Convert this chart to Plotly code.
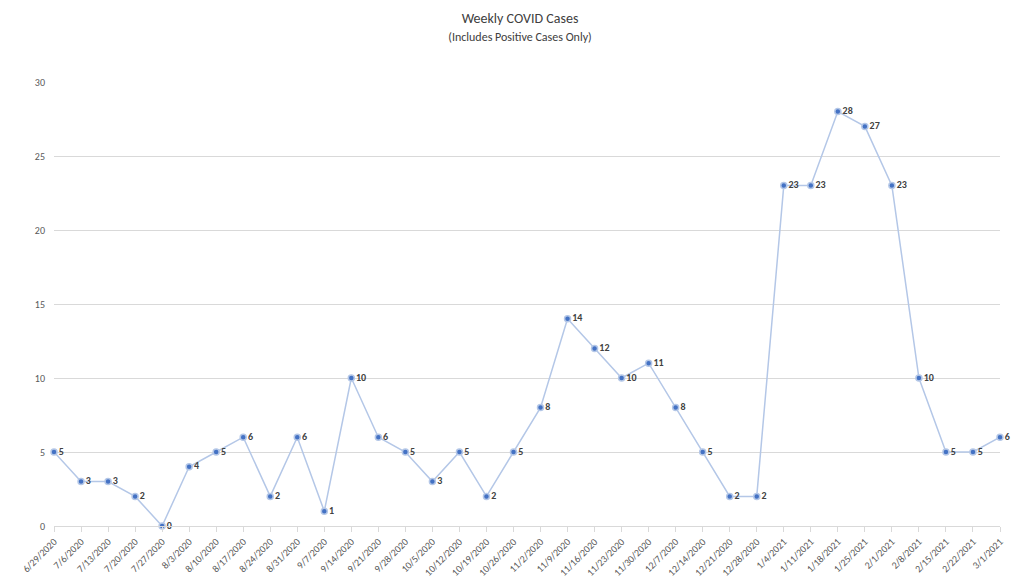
import plotly.graph_objects as go

weeks = ["6/29/2020", "7/6/2020", "7/13/2020", "7/20/2020", "7/27/2020", "8/3/2020",
         "8/10/2020", "8/17/2020", "8/24/2020", "8/31/2020", "9/7/2020", "9/14/2020",
         "9/21/2020", "9/28/2020", "10/5/2020", "10/12/2020", "10/19/2020", "10/26/2020",
         "11/2/2020", "11/9/2020", "11/16/2020", "11/23/2020", "11/30/2020", "12/7/2020",
         "12/14/2020", "12/21/2020", "12/28/2020", "1/4/2021", "1/11/2021", "1/18/2021",
         "1/25/2021", "2/1/2021", "2/8/2021", "2/15/2021", "2/22/2021", "3/1/2021"]
cases = [5, 3, 3, 2, 0, 4, 5, 6, 2, 6, 1, 10, 6, 5, 3, 5, 2, 5, 8, 14, 12, 10, 11, 8,
         5, 2, 2, 23, 23, 28, 27, 23, 10, 5, 5, 6]
y_ticks = [0, 5, 10, 15, 20, 25, 30]

fig = go.Figure()
fig.add_scatter(
    x=weeks, y=cases, mode="lines+markers+text",
    text=[f"<b>{v}</b>" for v in cases], textposition="middle right",
    textfont={"size": 10, "color": "#404040"},
    line={"color": "#B4C7E7", "width": 1.5},
    marker={"size": 6, "color": "#4472C4", "line": {"color": "#B4C7E7", "width": 1.5}},
    cliponaxis=False,
)
fig.update_layout(
    width=1024, height=585,
    paper_bgcolor="white", plot_bgcolor="white",
    font={"family": "Calibri, Liberation Sans, Arial, sans-serif", "color": "#595959", "size": 10},
    title={"text": "Weekly COVID Cases<br><span style='font-size:12px'>(Includes Positive Cases Only)</span>",
           "x": 0.5, "y": 0.975, "xanchor": "center", "yanchor": "top",
           "font": {"size": 14, "color": "#404040"}},
    margin={"l": 40, "r": 32, "t": 74, "b": 67},
    showlegend=False,
)
fig.update_xaxes(type="category", range=[0, 35], tickangle=-45, showgrid=False,
                 showline=True, linecolor="#D9D9D9", ticks="outside", tickcolor="#D9D9D9",
                 tickfont={"size": 10, "color": "#595959"})
fig.update_yaxes(range=[0, 30], tickvals=y_ticks, showgrid=True, gridcolor="#D9D9D9",
                 zeroline=False, showline=False, ticklabelstandoff=8,
                 tickfont={"size": 10, "color": "#595959"})
fig.write_html("out.html")
